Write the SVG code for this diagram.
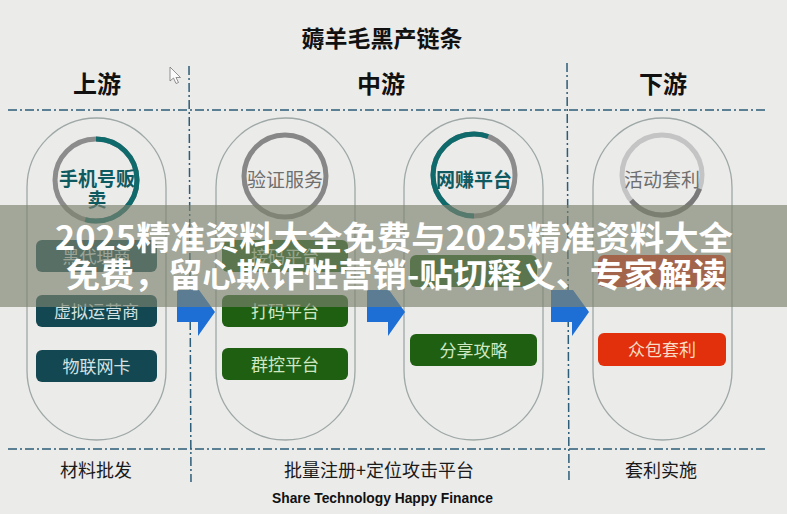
<svg xmlns="http://www.w3.org/2000/svg" width="787" height="514" viewBox="0 0 787 514">
<style>
.cjk{font-family:"Noto Sans CJK SC","Noto Sans",sans-serif}
.title{font-size:23px;font-weight:bold;fill:#111}
.hdr{font-size:24px;font-weight:bold;fill:#111}
.div{stroke:#2d5d78;stroke-width:1.5;stroke-dasharray:9 3 2 3;fill:none}
.pill{fill:none;stroke:#9ea8a6;stroke-width:1.3}
.ring{fill:none;stroke-width:5}
.ctxt{font-size:19px;text-anchor:middle}
.teal{fill:#0f5a60;font-weight:bold}
.gray{fill:#6e6e6e}
.box{stroke:none}
.btxt{font-size:17px;text-anchor:middle}
.bot{font-size:18px;fill:#1a1a1a;text-anchor:middle}
.arrow{fill:#1d6fd6}
.ov{font-size:33px;font-weight:bold;fill:#fff;text-anchor:middle}
</style>
<rect width="787" height="514" fill="#ebebea"/>
<text class="cjk title" x="382" y="47" text-anchor="middle">薅羊毛黑产链条</text>
<text class="cjk hdr" x="97" y="93" text-anchor="middle">上游</text>
<text class="cjk hdr" x="381" y="93" text-anchor="middle">中游</text>
<text class="cjk hdr" x="663" y="93" text-anchor="middle">下游</text>
<g id="dividers">
<line class="div" x1="8" y1="110" x2="767" y2="110"/>
<line class="div" x1="8" y1="449" x2="767" y2="449"/>
<line class="div" x1="189" y1="66" x2="191" y2="482"/>
<line class="div" x1="567" y1="63" x2="569" y2="482"/>
</g>
<polygon points="170,67 170,81 173.5,78 176,83.5 178.5,82.5 176,77.5 180.5,77.5" fill="#fafafa" stroke="#777" stroke-width="0.8"/>
<g id="upstream">
<rect class="pill" x="27" y="118" width="139" height="322" rx="69.5"/>
<circle class="ring" cx="96" cy="180" r="41" stroke="#8c8c8c"/>
<circle class="ring" cx="96" cy="180" r="41" stroke="#0f6a6c" stroke-dasharray="139.5 300" transform="rotate(-90 96 180)"/>
<text class="cjk ctxt teal" x="97" y="186">手机号贩</text>
<text class="cjk ctxt teal" x="97" y="207">卖</text>
<rect class="box" x="36" y="240" width="121" height="32" rx="6" fill="#164b55"/>
<text class="cjk btxt" x="96.5" y="262.5" fill="#d3e3e3">黑代理商</text>
<rect class="box" x="36" y="295" width="121" height="32" rx="6" fill="#134852"/>
<text class="cjk btxt" x="96.5" y="317.5" fill="#d3e3e3">虚拟运营商</text>
<rect class="box" x="36" y="350" width="121" height="32" rx="6" fill="#134852"/>
<text class="cjk btxt" x="96.5" y="372.5" fill="#d3e3e3">物联网卡</text>
</g>
<g id="midstream-verify">
<rect class="pill" x="216" y="118" width="139" height="322" rx="69.5"/>
<circle class="ring" cx="285" cy="176" r="41" stroke="#878787"/>
<text class="cjk ctxt gray" x="285" y="187">验证服务</text>
<rect class="box" x="222" y="240" width="126" height="32" rx="6" fill="#1f5f12"/>
<text class="cjk btxt" x="285" y="262.5" fill="#cfe8c2">接码平台</text>
<rect class="box" x="222" y="295" width="126" height="32" rx="6" fill="#1f5f12"/>
<text class="cjk btxt" x="285" y="317.5" fill="#cfe8c2">打码平台</text>
<rect class="box" x="222" y="348" width="126" height="32" rx="6" fill="#1f5f12"/>
<text class="cjk btxt" x="285" y="370.5" fill="#cfe8c2">群控平台</text>
</g>
<g id="midstream-earn">
<rect class="pill" x="404" y="118" width="139" height="322" rx="69.5"/>
<circle class="ring" cx="474" cy="175" r="41" stroke="#8c8c8c"/>
<circle class="ring" cx="474" cy="175" r="41" stroke="#0f6a6c" stroke-dasharray="143 300" transform="rotate(90 474 175)"/>
<text class="cjk ctxt teal" x="474" y="187">网赚平台</text>
<rect class="box" x="410" y="255" width="127" height="32" rx="6" fill="#1f5f12"/>
<rect class="box" x="410" y="334" width="127" height="32" rx="6" fill="#1f5f12"/>
<text class="cjk btxt" x="473.5" y="356.5" fill="#cfe8c2">分享攻略</text>
</g>
<g id="downstream">
<rect class="pill" x="593" y="118" width="139" height="322" rx="69.5"/>
<circle class="ring" cx="662" cy="175" r="40" stroke="#c4c4c4"/>
<circle class="ring" cx="662" cy="175" r="40" stroke="#7a7a7a" stroke-dasharray="84 300" transform="rotate(20 662 175)"/>
<text class="cjk ctxt gray" x="662" y="187">活动套利</text>
<rect class="box" x="598" y="255" width="128" height="32" rx="6" fill="#e8300c"/>
<rect class="box" x="598" y="333" width="128" height="33" rx="6" fill="#e2300c"/>
<text class="cjk btxt" x="662" y="356" fill="#f7dcc6">众包套利</text>
</g>
<g id="connectors">
<polygon class="arrow" points="177,290 199,290 215,312 198,336 198,322 177,322"/>
<polygon class="arrow" points="367,290 389,290 405,312 388,336 388,322 367,322"/>
<polygon class="arrow" points="551,290 573,290 589,312 572,336 572,322 551,322"/>
</g>
<text class="cjk bot" x="96" y="477">材料批发</text>
<text class="cjk bot" x="379" y="477">批量注册+定位攻击平台</text>
<text class="cjk bot" x="661" y="477">套利实施</text>
<text x="382.5" y="503" text-anchor="middle" font-family="Liberation Sans, Arial, sans-serif" font-size="14" font-weight="bold" fill="#111" textLength="221" lengthAdjust="spacingAndGlyphs">Share Technology Happy Finance</text>
<rect x="0" y="205" width="787" height="102" fill="rgb(125,130,110)" fill-opacity="0.65"/>
<text class="cjk ov" x="394" y="250" textLength="678" lengthAdjust="spacingAndGlyphs">2025精准资料大全免费与2025精准资料大全</text>
<text class="cjk ov" x="396" y="287" textLength="660" lengthAdjust="spacingAndGlyphs">免费，留心欺诈性营销-贴切释义、专家解读</text>
</svg>
